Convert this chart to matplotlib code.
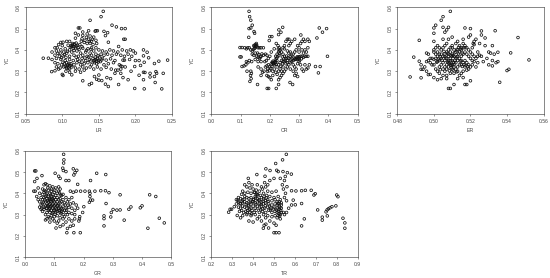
"""Scatter panels of YC against LR, CR, ER, GR and TR."""
import matplotlib
matplotlib.use("Agg")
import matplotlib.pyplot as plt

plt.rcParams["font.family"] = ["Liberation Sans", "DejaVu Sans"]

lr_points = [
    (.156,.581),(.153,.556),(.138,.539),(.168,.516),(.174,.508),(.181,.50),(.186,.50),(.124,.503),(.122,.503),
    (.157,.487),(.162,.481),(.159,.467),(.146,.49),(.148,.49),(.145,.488),(.136,.49),(.128,.484),(.118,.478),
    (.186,.45),(.184,.45),(.163,.436),(.177,.416),(.211,.40),(.216,.389),(.244,.352),(.232,.347),(.226,.336),
    (.218,.363),(.211,.372),(.212,.342),(.205,.35),(.199,.322),(.207,.327),(.211,.295),(.213,.294),(.205,.281),
    (.22,.29),(.228,.298),(.229,.29),(.238,.29),(.22,.273),(.226,.275),(.211,.26),(.227,.247),(.199,.219),
    (.212,.217),(.236,.217),(.177,.2375),(.159,.239),(.163,.228),(.074,.361),(.081,.361),(.0855,.298),
    (.09,.302),(.095,.31),(.1,.285),(.101,.28),(.113,.283),(.128,.255),(.137,.237),(.14,.243),(.144,.275),
    (.147,.262),(.15,.258),(.154,.256),(.15,.282),(.161,.27),(.166,.265),(.18,.29),(.183,.27),(.19,.26),
    (.194,.3),(.172,.29),(.176,.305),(.18,.31),(.186,.32),
    (.122,.47),(.128,.468),(.134,.475),(.138,.465),(.143,.46),(.118,.455),(.127,.452),(.136,.45),(.141,.45),
    (.131,.445),(.146,.445),(.098,.435),(.101,.436),(.106,.44),(.11,.44),(.114,.43),(.119,.432),(.124,.425),
    (.13,.435),(.134,.43),(.138,.432),(.142,.425),(.147,.43),(.095,.425),(.1,.42),(.108,.422),(.112,.42),
    (.116,.425),(.116,.415),(.113,.415),(.119,.418),(.122,.41),(.127,.415),(.128,.408),(.118,.41),(.09,.41),
    (.093,.41),(.098,.4),(.104,.405),(.11,.4),(.135,.405),(.14,.41),(.146,.41),(.086,.39),(.092,.395),
    (.097,.385),(.102,.39),(.106,.385),(.113,.39),(.12,.395),(.125,.385),(.132,.39),(.138,.385),(.143,.395),
    (.15,.4),(.155,.395),(.16,.39),(.165,.4),(.17,.395),(.176,.39),(.182,.4),(.188,.395),(.193,.4),(.197,.395),
    (.2,.385),(.09,.375),(.096,.37),(.101,.372),(.105,.365),(.11,.37),(.116,.375),(.122,.37),(.128,.375),
    (.134,.37),(.14,.375),(.146,.38),(.149,.372),(.153,.38),(.157,.375),(.162,.38),(.168,.375),(.174,.38),
    (.18,.375),(.185,.37),(.19,.38),(.195,.37),(.086,.355),(.092,.36),(.098,.355),(.104,.35),(.11,.355),
    (.115,.35),(.121,.355),(.127,.36),(.132,.35),(.137,.355),(.142,.36),(.146,.355),(.148,.36),(.15,.35),
    (.155,.36),(.16,.352),(.166,.358),(.172,.35),(.183,.352),(.185,.352),(.192,.355),(.2,.35),(.09,.34),
    (.094,.335),(.099,.33),(.103,.335),(.106,.34),(.108,.33),(.11,.325),(.112,.335),(.116,.33),(.12,.34),
    (.125,.33),(.13,.335),(.135,.34),(.14,.33),(.144,.34),(.147,.335),(.152,.345),(.157,.33),(.163,.335),
    (.17,.34),(.178,.33),(.18,.325),(.182,.322),(.092,.32),(.097,.315),(.102,.32),(.106,.32),(.109,.315),
    (.11,.31),(.113,.32),(.118,.315),(.123,.31),(.128,.32),(.133,.315),(.138,.32),(.143,.31),(.148,.32),
    (.153,.31),(.16,.318),(.167,.31),(.173,.305),(.105,.3),(.11,.295),(.118,.3),(.125,.295),(.13,.305),
    (.114,.423),(.117,.428),(.121,.421),(.111,.413),(.115,.407),(.107,.328),(.104,.323),(.109,.337),(.112,.327),
    (.101,.342),(.106,.313),(.144,.352),(.147,.347),(.149,.343),(.145,.366),(.143,.347),(.123,.347),(.127,.343),
    (.131,.362),(.119,.366),(.136,.367),(.139,.348),(.151,.367),(.154,.353),(.094,.384),(.099,.363),(.103,.378),
    (.107,.393),(.116,.397),(.123,.402),(.133,.398),(.139,.403),(.137,.44),(.133,.459),(.14,.441),(.126,.441),
]

cr_points = [
    (.129,.581),(.131,.556),(.135,.539),(.14,.516),(.135,.503),(.129,.5),(.146,.486),(.148,.478),(.128,.459),
    (.244,.506),(.231,.494),(.238,.483),(.23,.472),(.2,.4625),(.207,.4625),(.198,.444),(.306,.47),(.369,.503),
    (.394,.50),(.38,.483),(.361,.456),(.397,.37),(.356,.322),(.372,.322),(.366,.292),(.098,.411),(.105,.411),
    (.098,.367),(.102,.367),(.105,.322),(.112,.325),(.132,.252),(.158,.2375),(.191,.219),(.196,.219),(.222,.219),
    (.23,.2375),(.269,.247),(.278,.2375),(.136,.265),(.134,.28),(.137,.29),(.135,.3),(.122,.3),(.118,.33),
    (.114,.41),(.12,.405),(.124,.41),(.13,.41),(.135,.4),(.14,.395),(.145,.42),(.15,.425),(.154,.43),(.15,.41),
    (.156,.415),(.16,.41),(.165,.41),(.17,.41),(.178,.41),(.14,.38),(.145,.375),(.15,.385),(.155,.37),(.16,.365),
    (.165,.36),(.17,.37),(.178,.375),(.185,.38),(.19,.375),(.13,.35),(.138,.345),(.125,.34),(.12,.345),
    (.15,.355),(.16,.345),(.17,.345),(.16,.32),(.17,.31),(.175,.295),(.17,.28),(.18,.3),(.185,.32),(.19,.325),
    (.195,.33),(.2,.32),(.205,.335),(.21,.34),(.212,.335),(.215,.33),(.218,.345),(.22,.34),(.224,.35),
    (.19,.28),(.195,.275),(.2,.27),(.205,.26),(.21,.3),(.215,.31),(.22,.295),(.225,.285),(.23,.26),(.235,.27),
    (.24,.28),(.245,.29),(.25,.3),(.255,.31),(.26,.32),(.265,.33),(.27,.34),(.275,.345),(.28,.35),(.285,.355),
    (.29,.355),(.295,.355),(.3,.36),(.305,.37),(.31,.37),(.315,.365),(.32,.37),(.325,.37),(.33,.37),
    (.22,.37),(.225,.38),(.23,.39),(.232,.41),(.228,.42),(.222,.43),(.215,.405),(.205,.39),(.2,.37),(.195,.36),
    (.235,.4),(.24,.39),(.245,.38),(.25,.37),(.255,.36),(.26,.35),(.265,.36),(.27,.37),(.275,.375),(.28,.38),
    (.285,.39),(.29,.4),(.295,.42),(.3,.41),(.305,.43),(.31,.44),(.315,.45),(.32,.44),(.33,.45),(.335,.44),
    (.265,.42),(.27,.43),(.275,.44),(.26,.45),(.255,.44),(.265,.45),(.285,.45),(.25,.42),(.245,.41),(.25,.405),
    (.26,.395),(.265,.385),(.27,.39),(.24,.35),(.245,.345),(.25,.345),(.255,.335),(.26,.34),(.245,.32),
    (.235,.34),(.23,.33),(.225,.32),(.235,.31),(.24,.3),(.23,.3),(.21,.28),(.28,.33),(.285,.32),(.29,.31),
    (.295,.335),(.3,.345),(.305,.33),(.31,.31),(.315,.3),(.32,.33),(.325,.31),(.335,.33),(.33,.315),(.28,.3),
    (.27,.31),(.29,.29),(.285,.28),(.295,.275),(.3,.39),(.31,.4),(.32,.4),(.315,.385),(.325,.39),(.33,.41),
    (.213,.337),(.217,.342),(.211,.347),(.208,.342),(.221,.332),(.219,.353),(.223,.361),(.226,.367),(.231,.373),
    (.233,.382),(.229,.404),(.234,.397),(.283,.362),(.287,.359),(.291,.362),(.294,.368),(.297,.363),(.3,.368),
    (.276,.358),(.272,.353),(.302,.352),(.308,.358),(.243,.367),(.248,.358),(.252,.352),(.257,.371),(.262,.363),
    (.148,.417),(.152,.418),(.155,.423),(.147,.406),(.143,.402),(.158,.385),(.162,.378),(.168,.366),(.173,.381),
    (.193,.31),(.198,.302),(.203,.313),(.207,.322),(.183,.345),(.188,.35),(.192,.3),(.238,.323),(.243,.335),
]

er_points = [
    (.509,.581),(.505,.556),(.504,.539),(.501,.516),(.5,.503),(.508,.506),(.505,.506),(.507,.494),(.506,.483),
    (.5,.478),(.517,.503),(.52,.5),(.526,.489),(.5335,.49),(.526,.47),(.528,.456),(.546,.458),(.492,.445),
    (.552,.353),(.542,.386),(.535,.389),(.541,.309),(.54,.303),(.536,.248),(.487,.273),(.493,.269),(.489,.366),
    (.492,.347),(.493,.33),(.493,.309),(.494,.309),(.497,.284),(.498,.285),(.508,.219),(.509,.219),(.511,.2375),
    (.517,.2375),(.518,.2375),(.52,.255),(.502,.26),(.504,.265),(.507,.265),(.513,.265),(.516,.27),(.5,.27),
    (.496,.3),(.495,.32),(.496,.345),(.497,.35),(.498,.36),(.497,.38),(.496,.385),(.5,.4),(.501,.41),(.502,.42),
    (.5,.44),(.505,.45),(.508,.45),(.51,.46),(.513,.44),(.516,.45),(.519,.46),(.52,.47),(.522,.44),(.523,.45),
    (.525,.43),(.528,.42),(.532,.42),(.53,.39),(.531,.385),(.533,.38),(.529,.36),(.532,.35),(.534,.34),(.535,.345),
    (.53,.33),(.532,.325),(.527,.345),(.525,.375),(.524,.37),
    (.5,.33),(.501,.31),(.502,.3),(.503,.29),(.505,.28),(.506,.3),(.507,.31),(.508,.32),(.51,.33),(.511,.34),
    (.502,.345),(.503,.35),(.504,.36),(.505,.37),(.506,.38),(.507,.39),(.508,.4),(.509,.41),(.51,.42),
    (.512,.43),(.514,.42),(.515,.41),(.516,.43),(.517,.42),(.518,.41),(.519,.4),(.52,.39),(.521,.38),(.522,.37),
    (.523,.36),(.524,.34),(.522,.345),(.521,.33),(.52,.32),(.519,.31),(.518,.305),(.517,.32),(.516,.3),
    (.515,.29),(.514,.28),(.513,.3),(.512,.31),(.511,.32),(.51,.35),(.509,.36),(.508,.37),(.507,.36),(.506,.35),
    (.505,.34),(.504,.33),(.503,.32),(.502,.37),(.501,.38),(.5,.39),(.499,.36),(.498,.34),(.499,.33),(.5,.355),
    (.501,.36),(.503,.38),(.504,.4),(.505,.41),(.506,.42),(.507,.43),(.508,.38),(.509,.39),(.51,.38),(.511,.37),
    (.512,.36),(.513,.35),(.514,.36),(.515,.37),(.516,.38),(.517,.39),(.518,.38),(.519,.37),(.52,.36),(.521,.35),
    (.512,.39),(.513,.4),(.514,.39),(.511,.4),(.51,.41),(.513,.37),(.512,.34),(.511,.33),(.51,.31),(.509,.33),
    (.508,.34),(.507,.33),(.506,.32),(.505,.31),(.507,.28),(.509,.29),(.511,.29),(.513,.32),(.515,.33),(.516,.34),
    (.517,.35),(.518,.34),(.519,.33),(.515,.35),(.514,.33),(.51,.37),(.509,.35),(.508,.35),(.506,.37),(.504,.38),
    (.503,.41),(.502,.39),(.515,.4),(.516,.41),(.517,.41),(.521,.41),(.522,.425),(.524,.39),(.526,.37),(.523,.32),
    (.5085,.337),(.5105,.343),(.5095,.327),(.5115,.352),(.5075,.344),(.5065,.362),(.5125,.367),(.5105,.374),
    (.5135,.381),(.5115,.387),(.5095,.373),(.5145,.347),(.5155,.322),(.5165,.331),(.5175,.327),(.5185,.322),
    (.5125,.402),(.5145,.404),(.5135,.412),(.5155,.385),(.5075,.384),(.5055,.393),(.5035,.367),(.5045,.352),
    (.5015,.342),(.5025,.356),(.5085,.302),(.5105,.305),(.5125,.297),(.5095,.317),(.5035,.307),(.5215,.43),
]

gr_points = [
    (.132,.583),(.133,.557),(.132,.542),(.129,.518),(.165,.515),(.177,.508),(.171,.497),(.167,.486),(.131,.507),
    (.14,.502),(.033,.505),(.037,.505),(.058,.483),(.041,.47),(.033,.455),(.103,.494),(.245,.494),(.276,.488),
    (.224,.46),(.18,.442),(.19,.41),(.205,.41),(.239,.41),(.259,.412),(.275,.412),(.287,.403),(.325,.393),
    (.426,.393),(.447,.385),(.277,.352),(.224,.368),(.231,.368),(.22,.358),(.201,.337),(.301,.324),(.295,.31),
    (.314,.321),(.325,.322),(.355,.325),(.362,.336),(.394,.332),(.4,.341),(.27,.294),(.27,.281),(.293,.289),
    (.339,.274),(.27,.247),(.42,.236),(.459,.283),(.476,.261),(.143,.215),(.167,.215),(.189,.215),(.106,.237),
    (.12,.244),(.13,.252),(.184,.27),(.186,.28),(.187,.29),(.197,.31),(.22,.41),(.222,.4),(.222,.385),
    (.115,.48),(.12,.47),(.14,.46),(.15,.46),(.155,.41),(.165,.405),(.175,.41),(.03,.41),(.035,.41),(.045,.425),
    (.05,.4),(.04,.385),(.045,.37),(.06,.42),(.065,.44),(.07,.445),(.075,.44),(.085,.435),(.095,.43),(.105,.425),
    (.115,.43),(.12,.42),(.06,.395),(.065,.405),(.07,.41),(.075,.4),(.08,.415),(.085,.4),(.09,.41),(.095,.395),
    (.1,.405),(.105,.39),(.11,.4),(.115,.41),(.125,.39),(.13,.395),(.05,.36),(.055,.38),(.06,.37),(.065,.38),
    (.07,.385),(.075,.375),(.08,.385),(.085,.37),(.09,.385),(.095,.375),(.1,.38),(.105,.37),(.11,.38),(.115,.37),
    (.12,.375),(.13,.37),(.14,.38),(.15,.37),(.16,.38),(.05,.335),(.055,.345),(.06,.35),(.065,.335),(.07,.36),
    (.075,.35),(.08,.36),(.085,.35),(.09,.36),(.095,.35),(.1,.36),(.105,.35),(.11,.36),(.115,.35),(.12,.355),
    (.125,.36),(.135,.355),(.145,.36),(.155,.35),(.165,.355),(.175,.345),(.055,.325),(.06,.315),(.065,.325),
    (.07,.34),(.075,.33),(.08,.34),(.085,.33),(.09,.34),(.095,.33),(.1,.34),(.105,.33),(.11,.34),(.115,.33),
    (.12,.335),(.125,.33),(.13,.34),(.14,.33),(.15,.335),(.16,.33),(.17,.32),(.18,.33),(.07,.3),(.075,.31),
    (.08,.32),(.085,.31),(.09,.32),(.095,.31),(.1,.32),(.105,.31),(.11,.315),(.115,.32),(.12,.31),(.125,.315),
    (.13,.3),(.135,.32),(.14,.31),(.145,.3),(.15,.31),(.16,.305),(.17,.3),(.07,.275),(.075,.28),(.08,.29),
    (.085,.285),(.09,.295),(.095,.28),(.1,.29),(.11,.295),(.115,.27),(.12,.285),(.13,.28),(.135,.29),(.14,.265),
    (.15,.28),(.155,.245),(.165,.25),(.17,.28),(.16,.27),(.145,.235),(.085,.265),(.1,.27),(.11,.26),
    (.083,.377),(.087,.363),(.092,.371),(.078,.367),(.073,.392),(.088,.392),(.082,.346),(.077,.342),(.093,.344),
    (.087,.337),(.097,.367),(.103,.344),(.108,.325),(.113,.342),(.118,.318),(.098,.322),(.103,.302),(.123,.304),
    (.128,.322),(.066,.414),(.078,.425),(.091,.42),(.102,.415),(.118,.402),(.072,.33),(.083,.325),(.093,.305),
    (.068,.368),(.062,.358),(.058,.33),(.137,.345),(.142,.322),(.147,.344),(.121,.392),
]

tr_points = [
    (.559,.583),(.541,.557),(.508,.54),(.461,.515),(.481,.507),(.513,.508),(.52,.502),(.543,.502),(.564,.497),
    (.583,.49),(.418,.488),(.554,.479),(.377,.47),(.457,.48),(.562,.431),(.584,.412),(.605,.411),(.632,.412),
    (.65,.414),(.678,.414),(.697,.398),(.691,.392),(.8,.392),(.806,.384),(.592,.368),(.602,.346),(.584,.345),
    (.632,.352),(.56,.365),(.709,.322),(.796,.341),(.777,.337),(.768,.332),(.76,.327),(.754,.322),(.749,.313),
    (.731,.288),(.731,.274),(.755,.294),(.645,.28),(.632,.247),(.83,.283),(.839,.261),(.839,.236),(.283,.311),
    (.29,.325),(.297,.325),(.31,.337),(.324,.296),(.34,.285),(.5,.215),(.51,.215),(.524,.215),(.449,.236),
    (.474,.237),(.461,.255),(.453,.25),(.38,.27),(.4,.265),(.42,.28),(.44,.27),(.46,.285),(.48,.27),(.5,.26),
    (.51,.25),(.53,.28),(.55,.3),(.56,.31),(.545,.31),(.57,.33),(.55,.38),(.555,.4),(.545,.42),(.54,.44),(.55,.46),
    (.53,.47),(.5,.47),(.48,.46),(.47,.44),(.455,.45),(.46,.43),(.44,.43),(.42,.44),(.395,.44),(.38,.45),(.37,.43),
    (.36,.44),(.385,.425),(.4,.42),(.415,.415),(.43,.41),(.445,.42),(.47,.41),(.49,.405),(.51,.41),(.35,.41),
    (.345,.395),(.36,.4),(.375,.405),(.39,.4),(.405,.405),(.42,.395),(.435,.39),(.45,.4),(.465,.39),(.48,.385),
    (.5,.38),(.52,.385),(.53,.37),(.32,.37),(.33,.38),(.34,.375),(.35,.37),(.36,.385),(.37,.38),(.38,.375),
    (.39,.38),(.4,.37),(.41,.385),(.42,.375),(.43,.37),(.44,.38),(.45,.375),(.46,.365),(.47,.37),(.49,.365),
    (.505,.37),(.515,.36),(.525,.36),(.535,.355),(.32,.35),(.33,.36),(.34,.35),(.35,.355),(.36,.36),(.37,.355),
    (.38,.36),(.39,.35),(.4,.36),(.41,.355),(.42,.36),(.43,.35),(.44,.36),(.45,.35),(.46,.355),(.475,.35),
    (.49,.345),(.505,.35),(.515,.345),(.525,.34),(.535,.345),(.33,.335),(.34,.33),(.35,.34),(.36,.335),(.37,.33),
    (.38,.34),(.39,.33),(.4,.34),(.41,.33),(.42,.34),(.43,.33),(.44,.34),(.455,.33),(.47,.335),(.485,.33),(.5,.335),
    (.515,.33),(.525,.325),(.535,.33),(.335,.315),(.345,.32),(.355,.31),(.365,.315),(.375,.32),(.385,.31),
    (.395,.32),(.405,.31),(.415,.32),(.43,.31),(.445,.315),(.46,.31),(.475,.32),(.49,.31),(.505,.315),(.515,.31),
    (.525,.305),(.535,.31),(.35,.295),(.37,.3),(.39,.295),(.41,.3),(.43,.29),(.45,.3),(.47,.295),(.49,.29),
    (.505,.295),(.52,.295),(.53,.3),(.515,.285),
    (.408,.404),(.415,.397),(.422,.392),(.412,.378),(.397,.362),(.403,.372),(.387,.358),(.377,.343),(.367,.347),
    (.357,.372),(.347,.363),(.337,.352),(.327,.367),(.523,.352),(.528,.334),(.518,.352),(.532,.32),(.522,.315),
    (.512,.322),(.527,.293),(.437,.347),(.447,.362),(.452,.383),(.463,.378),(.472,.362),(.478,.34),(.483,.322),
    (.497,.327),(.392,.303),(.383,.325),(.372,.308),(.413,.347),(.427,.367),(.436,.323),(.447,.327),(.458,.342),
]

panels = [
    ("LR", lr_points, (.05, .25), [.05, .10, .15, .20, .25], "%.2f", (25.7, 7.3)),
    ("CR", cr_points, (0, .5), [0, .1, .2, .3, .4, .5], "%.1f", (211.3, 7.3)),
    ("ER", er_points, (.48, .56), [.48, .50, .52, .54, .56], "%.2f", (397.3, 7.3)),
    ("GR", gr_points, (0, .5), [0, .1, .2, .3, .4, .5], "%.1f", (25, 150.7)),
    ("TR", tr_points, (.2, .9), [.2, .3, .4, .5, .6, .7, .8, .9], "%.1f", (211.3, 150.7)),
]
yc_ticks = [.1, .2, .3, .4, .5, .6]

W, H = 550, 278
AX_W, AX_H = 146.3, 106.5
fig = plt.figure(figsize=(W / 100, H / 100), dpi=100)
for name, pts, xlim, xticks, fmt, (left, top) in panels:
    ax = fig.add_axes([left / W, 1 - (top + AX_H) / H, AX_W / W, AX_H / H])
    xs = [p[0] for p in pts]
    ys = [p[1] for p in pts]
    ax.scatter(xs, ys, s=3.6, facecolors="none", edgecolors="#111111", linewidths=0.55, clip_on=False)
    ax.set_xlim(xlim)
    ax.set_ylim(.1, .6)
    ax.set_xticks(xticks, [fmt % v for v in xticks])
    ax.set_yticks(yc_ticks, ["%.1f" % v for v in yc_ticks], rotation=90, va="center")
    ax.tick_params(labelsize=3.6, length=1.6, width=0.4, pad=1.8, colors="#444444")
    ax.set_xlabel(name, fontsize=3.8, labelpad=3.2, color="#444444")
    ax.set_ylabel("YC", fontsize=3.8, labelpad=4.5, color="#444444")
    for s in ax.spines.values():
        s.set_linewidth(0.45)
        s.set_color("#444444")
fig.savefig("out.png", dpi=100)
